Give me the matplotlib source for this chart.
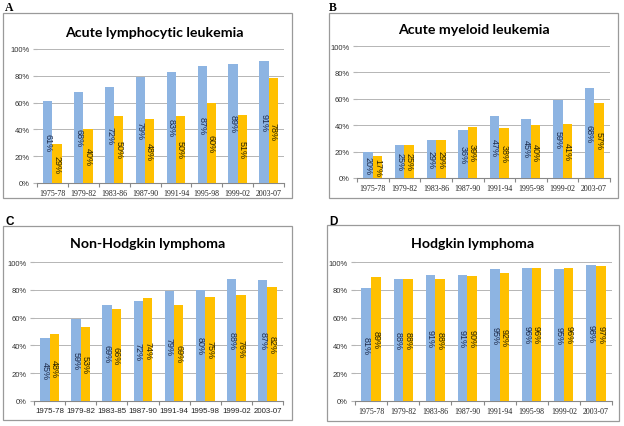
import matplotlib
matplotlib.use("Agg")
import matplotlib.pyplot as plt
from matplotlib.patches import Rectangle
import numpy as np

periods = ["1975-78", "1979-82", "1983-86", "1987-90", "1991-94", "1995-98", "1999-02", "2003-07"]
periods_c = ["1975-78", "1979-82", "1983-85", "1987-90", "1991-94", "1995-98", "1999-02", "2003-07"]

all_blue = [61, 68, 72, 79, 83, 87, 89, 91]
all_yellow = [29, 40, 50, 48, 50, 60, 51, 78]

aml_blue = [20, 25, 29, 36, 47, 45, 59, 68]
aml_yellow = [17, 25, 29, 39, 38, 40, 41, 57]

nhl_blue = [45, 59, 69, 72, 79, 80, 88, 87]
nhl_yellow = [48, 53, 66, 74, 69, 75, 76, 82]

hl_blue = [81, 88, 91, 91, 95, 96, 95, 98]
hl_yellow = [89, 88, 88, 90, 92, 96, 96, 97]

BLUE = "#8DB4E2"
YELLOW = "#FFC000"

W, H = 624, 427
fig = plt.figure(figsize=(W / 100, H / 100), dpi=100)


def fbox(x0, y0, x1, y1):
    return [x0 / W, 1 - y1 / H, (x1 - x0) / W, (y1 - y0) / H]


panels = [
    dict(letter="A", lpos=(5, 8), lfont="Liberation Serif", title="Acute lymphocytic leukemia",
         tpos=(154, 33), box=(3, 14, 292, 199), ax=(37, 50, 284, 184), blue=all_blue,
         yellow=all_yellow, cats=periods, xfont="Liberation Serif"),
    dict(letter="B", lpos=(329, 8), lfont="Liberation Serif", title="Acute myeloid leukemia",
         tpos=(474, 30), box=(329, 14, 618, 199), ax=(357, 47, 610, 179), blue=aml_blue,
         yellow=aml_yellow, cats=periods, xfont="Liberation Serif"),
    dict(letter="C", lpos=(5, 222), lfont="Liberation Sans", title="Non-Hodgkin lymphoma",
         tpos=(148, 244), box=(3, 227, 292, 421), ax=(34, 263, 283, 402), blue=nhl_blue,
         yellow=nhl_yellow, cats=periods_c, xfont="Liberation Sans"),
    dict(letter="D", lpos=(329, 222), lfont="Liberation Sans", title="Hodgkin lymphoma",
         tpos=(473, 244), box=(327, 226, 619, 422), ax=(355, 263, 612, 402), blue=hl_blue,
         yellow=hl_yellow, cats=periods, xfont="Liberation Serif"),
]

for p in panels:
    bx0, by0, bx1, by1 = p["box"]
    fig.patches.append(Rectangle((bx0 / W, 1 - by1 / H), (bx1 - bx0) / W, (by1 - by0) / H,
                                 transform=fig.transFigure, fill=False, edgecolor="#9a9a9a",
                                 linewidth=0.9))
    fig.text(p["lpos"][0] / W, 1 - p["lpos"][1] / H, p["letter"], fontsize=8.5, fontweight="bold",
             family=p["lfont"], ha="left", va="center")
    fig.text(p["tpos"][0] / W, 1 - p["tpos"][1] / H, p["title"], fontsize=10.2, fontweight="bold",
             family="Lato", ha="center", va="center")

    ax = fig.add_axes(fbox(*p["ax"]))
    x = np.arange(len(p["cats"]))
    w = 0.3
    ax.bar(x - w / 2, p["blue"], width=w, color=BLUE, zorder=3)
    ax.bar(x + w / 2, p["yellow"], width=w, color=YELLOW, zorder=3)
    for xi, v in zip(x, p["blue"]):
        ax.text(xi - w / 2, v / 2, f"{v}%", rotation=270, ha="center", va="center",
                fontsize=6.5, color="#1c2a4a", family="Liberation Sans", zorder=4)
    for xi, v in zip(x, p["yellow"]):
        ax.text(xi + w / 2, v / 2, f"{v}%", rotation=270, ha="center", va="center",
                fontsize=6.5, color="#2a2200", family="Liberation Sans", zorder=4)

    ax.set_xlim(-0.5, len(p["cats"]) - 0.5)
    ax.set_ylim(0, 100)
    ax.set_yticks(np.arange(0, 101, 20))
    ax.set_yticklabels([f"{t}%" for t in range(0, 101, 20)], fontsize=5.5,
                       family="Liberation Sans", color="#333333")
    ax.yaxis.grid(True, color="#b5b5b5", linewidth=0.7, zorder=0)
    ax.tick_params(axis="y", length=3, color="#b5b5b5", pad=2)
    ax.set_xticks(np.arange(-0.5, len(p["cats"]), 1), minor=False)
    ax.set_xticklabels([])
    ax.set_xticks(x, minor=True)
    ax.set_xticklabels(p["cats"], minor=True, fontsize=5.7, family=p["xfont"], color="#222222")
    ax.tick_params(axis="x", which="major", length=3, color="#888888", direction="out")
    ax.tick_params(axis="x", which="minor", length=0, pad=4)
    for s in ["top", "right", "left"]:
        ax.spines[s].set_visible(False)
    ax.spines["bottom"].set_color("#888888")
    ax.spines["bottom"].set_linewidth(0.8)
    ax.set_facecolor("none")

fig.savefig("out.png", dpi=100)
